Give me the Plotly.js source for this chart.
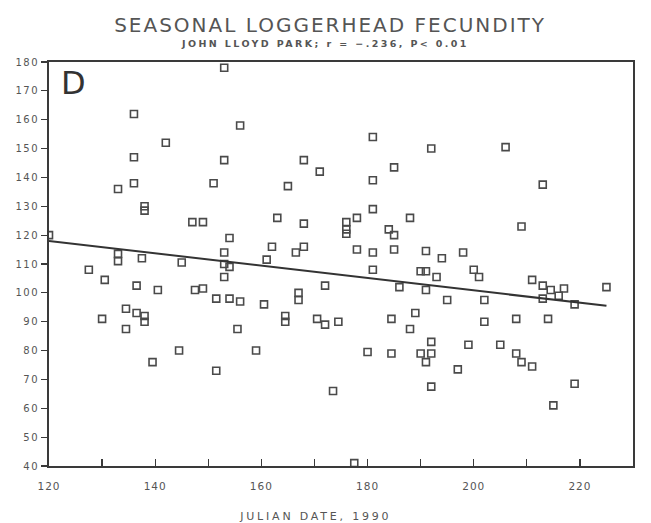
<!DOCTYPE html>
<html>
<head>
<meta charset="utf-8">
<script src="https://cdn.plot.ly/plotly-3.0.1.min.js"></script>
<style>
html,body{margin:0;padding:0;background:#fff;}
#chart{width:651px;height:523px;}
#chart .gtitle{letter-spacing:2px;}
#chart .annotation[data-index="0"] text{letter-spacing:2.4px;}
#chart .annotation[data-index="2"] text{letter-spacing:2.8px;}
#chart .ytick text{letter-spacing:1.5px;}
#chart .xtick text{letter-spacing:1px;}
</style>
</head>
<body>
<div id="chart"></div>
<script>
// Julian date of each nest (x) and clutch size / fecundity (y)
const julianDate = [120,127.5,130.5,130,133,133,133,134.5,134.5,136,136,136,136.5,136.5,137.5,138,138,138,138,139.5,
  140.5,142,144.5,145,147,149,147.5,149,151,151.5,151.5,153,153,153,153,154,153,154,154,156,
  155.5,156,159,160.5,161,162,163,164.5,164.5,165,166.5,168,167,167,168,168,170.5,171,172,172,
  173.5,174.5,176,176,176,177.5,178,178,180,181,181,181,181,181,184,185,185,185,184.5,184.5,
  186,188,188,189,190,191,190,191,191,191,192,192,192,192,193,194,195,197,198,199,
  200,201,202,202,205,206,208,208,209,209,211,211,213,213,213,214.5,214,215,216,217,
  219,219,225];
const fecundity = [120,108,104.5,91,136,113.5,111,94.5,87.5,162,147,138,102.5,93,112,130,128.5,92,90,76,
  101,152,80,110.5,124.5,124.5,101,101.5,138,98,73,178,146,114,110,109,105.5,119,98,97,
  87.5,158,80,96,111.5,116,126,92,90,137,114,116,100,97.5,146,124,91,142,102.5,89,
  66,90,124.5,122,120.5,41,126,115,79.5,154,139,129,114,108,122,120,115,143.5,91,79,
  102,126,87.5,93,107.5,107.5,79,114.5,101,76,150,83,79,67.5,105.5,112,97.5,73.5,114,82,
  108,105.5,97.5,90,82,150.5,91,79,123,76,104.5,74.5,137.5,102.5,98,101,91,61,99,101.5,
  96,68.5,102];
// regression line end points
const fitX = [120, 225];
const fitY = [118, 95.5];

const titleText = 'SEASONAL LOGGERHEAD FECUNDITY';
const subtitleText = 'JOHN LLOYD PARK; r = \u2212.236, P< 0.01';
const xTitle = 'JULIAN DATE, 1990';
const panelLetter = 'D';

const ink = '#3a3a3a';
const font = 'DejaVu Sans, Liberation Sans, sans-serif';

const traces = [
  {x: julianDate, y: fecundity, type: 'scatter', mode: 'markers',
   marker: {symbol: 'square-open', size: 7, color: '#4a4a4a', line: {width: 1.6, color: '#4a4a4a'}},
   hoverinfo: 'skip', showlegend: false},
  {x: fitX, y: fitY, type: 'scatter', mode: 'lines',
   line: {color: '#333', width: 2}, hoverinfo: 'skip', showlegend: false}
];

const layout = {
  width: 651, height: 523,
  margin: {l: 49, r: 18, t: 62, b: 57},
  paper_bgcolor: '#fff', plot_bgcolor: '#fff',
  font: {family: font, color: ink, size: 10},
  title: {text: titleText, x: 0.507, xanchor: 'center', y: 0.952, yanchor: 'middle', yref: 'container',
          font: {family: font, size: 20, color: '#555'}},
  xaxis: {range: [120, 230], dtick: 20, tick0: 120, ticks: 'inside', ticklen: 7, tickwidth: 1.2, tickcolor: ink,
          showline: true, linecolor: ink, linewidth: 2, mirror: true, showgrid: false, zeroline: false,
          minor: {dtick: 10, ticks: 'inside', ticklen: 7, tickwidth: 1.2, tickcolor: ink},
          ticklabelstandoff: 9,
          tickfont: {size: 10.5, color: '#555'}},
  yaxis: {range: [40, 180], dtick: 10, tick0: 40, ticks: 'outside', ticklen: 6, tickwidth: 1.2, tickcolor: ink,
          showline: true, linecolor: ink, linewidth: 2, mirror: true, showgrid: false, zeroline: false,
          tickfont: {size: 10, color: '#555'}},
  annotations: [
    {text: '<b>' + subtitleText + '</b>', xref: 'paper', yref: 'paper', x: 0.473, y: 1.045, xanchor: 'center', yanchor: 'middle',
     showarrow: false, font: {size: 9.5, color: '#555', family: font}},
    {text: panelLetter, xref: 'paper', yref: 'paper', x: 0.017, y: 1.0, xanchor: 'left', yanchor: 'top',
     showarrow: false, font: {size: 32, color: '#333', family: font}},
    {text: xTitle, xref: 'paper', yref: 'paper', x: 0.456, y: -0.126, xanchor: 'center', yanchor: 'middle',
     showarrow: false, font: {size: 11, color: '#555', family: font}}
  ]
};

Plotly.newPlot('chart', traces, layout, {displayModeBar: false, staticPlot: true});
</script>
</body>
</html>
